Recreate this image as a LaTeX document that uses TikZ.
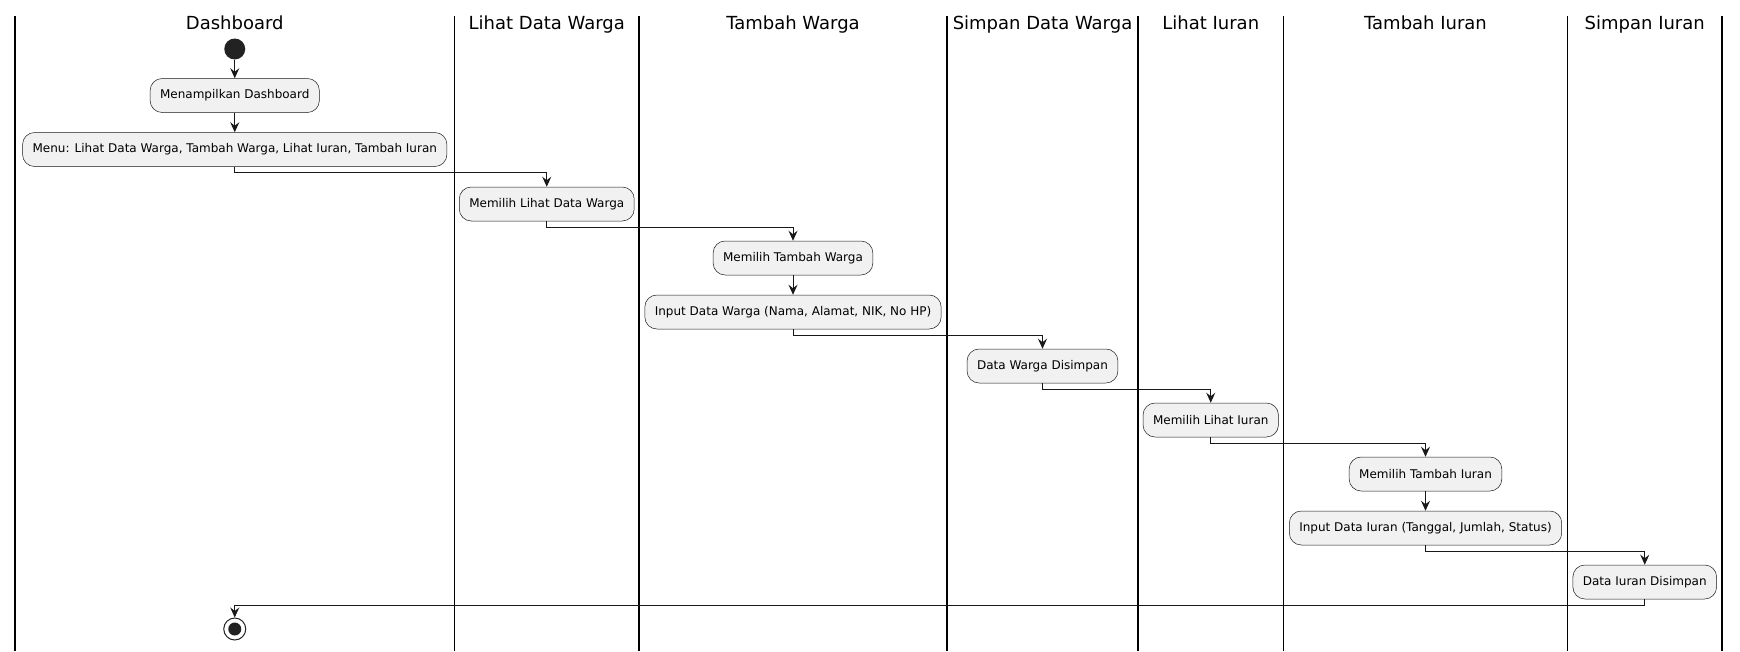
\documentclass[tikz,border=0pt]{standalone}
\usepackage{fontspec}
\setmainfont{DejaVu Sans}
\usepackage{xcolor}
\usetikzlibrary{arrows.meta}
\definecolor{actfill}{HTML}{F1F1F1}
\definecolor{actline}{HTML}{181818}
\definecolor{dotfill}{HTML}{222222}

\begin{document}
\begin{tikzpicture}[
    x=1pt, y=-1pt,
    activity/.style={draw=actline, line width=0.5pt, fill=actfill, rounded corners=12pt, minimum height=34pt, inner xsep=10pt, font=\fontsize{12}{14}\selectfont, text=black},
    lanetitle/.style={anchor=base, font=\fontsize{18}{21}\selectfont, text=black},
    lane/.style={line width=1.4pt, black},
    flow/.style={draw=actline, line width=1pt, -{Stealth[length=10pt, width=9pt, inset=3.5pt]}}
]
\useasboundingbox (0,0) rectangle (1740,651);

% swimlanes
\draw[lane] (15,16) -- (15,651);
\draw[lane] (454.5,16) -- (454.5,651);
\draw[lane] (639,16) -- (639,651);
\draw[lane] (947,16) -- (947,651);
\draw[lane] (1138,16) -- (1138,651);
\draw[lane] (1283.5,16) -- (1283.5,651);
\draw[lane] (1567.5,16) -- (1567.5,651);
\draw[lane] (1722,16) -- (1722,651);

\node[lanetitle] (t1) at (234.75,29) {Dashboard};
\node[lanetitle] (t2) at (546.75,29) {Lihat Data Warga};
\node[lanetitle] (t3) at (793,29) {Tambah Warga};
\node[lanetitle] (t4) at (1042.5,29) {Simpan Data Warga};
\node[lanetitle] (t5) at (1210.75,29) {Lihat Iuran};
\node[lanetitle] (t6) at (1425.5,29) {Tambah Iuran};
\node[lanetitle] (t7) at (1644.75,29) {Simpan Iuran};

% activities
\node[circle, fill=dotfill, minimum size=21pt, inner sep=0pt] (start) at (234.75,49) {};
\node[activity] (a1) at (234.75,95.5) {Menampilkan Dashboard};
\node[activity] (a2) at (234.75,149.5) {Menu: Lihat Data Warga, Tambah Warga, Lihat Iuran, Tambah Iuran};
\node[activity] (a3) at (546.75,204) {Memilih Lihat Data Warga};
\node[activity] (a4) at (793,258) {Memilih Tambah Warga};
\node[activity] (a5) at (793,312) {Input Data Warga (Nama, Alamat, NIK, No HP)};
\node[activity] (a6) at (1042.5,366) {Data Warga Disimpan};
\node[activity] (a7) at (1210.75,420) {Memilih Lihat Iuran};
\node[activity] (a8) at (1425.5,474) {Memilih Tambah Iuran};
\node[activity] (a9) at (1425.5,528) {Input Data Iuran (Tanggal, Jumlah, Status)};
\node[activity] (a10) at (1644.75,582) {Data Iuran Disimpan};
\node[circle, draw=dotfill, line width=1pt, fill=white, minimum size=22pt, inner sep=0pt] (stop) at (234.75,629) {};
\fill[dotfill] (stop.center) circle (6.5pt);

% flows
\draw[flow] (start) -- (a1);
\draw[flow] (a1) -- (a2);
\draw[flow] (a2.south) -- ++(0,6) -| (a3.north);
\draw[flow] (a3.south) -- ++(0,6) -| (a4.north);
\draw[flow] (a4) -- (a5);
\draw[flow] (a5.south) -- ++(0,6) -| (a6.north);
\draw[flow] (a6.south) -- ++(0,6) -| (a7.north);
\draw[flow] (a7.south) -- ++(0,6) -| (a8.north);
\draw[flow] (a8) -- (a9);
\draw[flow] (a9.south) -- ++(0,6) -| (a10.north);
\draw[flow] (a10.south) -- ++(0,6) -| (stop.north);

\end{tikzpicture}
\end{document}
